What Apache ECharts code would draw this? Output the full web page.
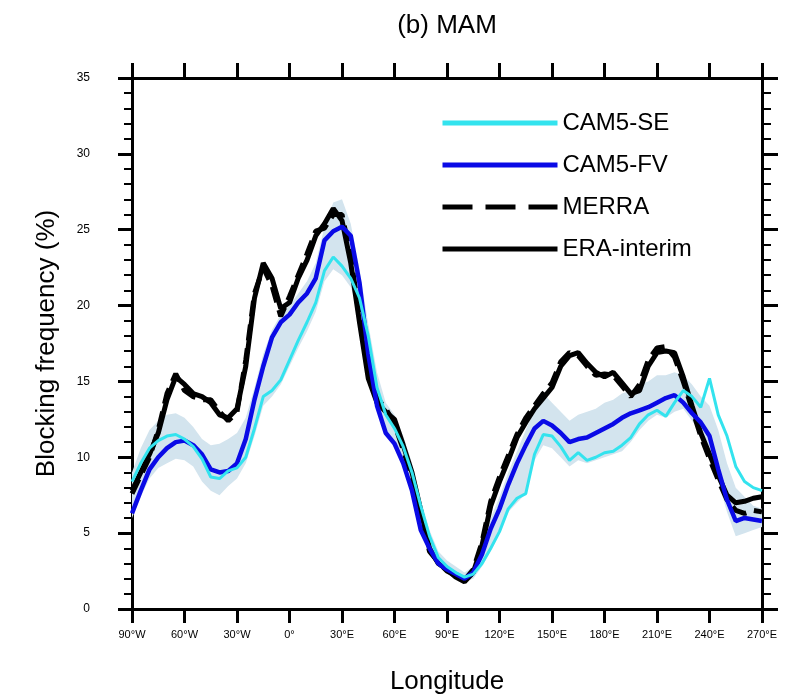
<!DOCTYPE html>
<html>
<head>
<meta charset="utf-8">
<script src="https://cdn.jsdelivr.net/npm/echarts@6/dist/echarts.min.js"></script>
<style>
  html, body { margin: 0; padding: 0; background: #fff; }
  #chart { width: 802px; height: 700px; }
</style>
</head>
<body>
<div id="chart"></div>
<script>
// longitude grid, every 5 degrees from 90W to 270E
var lons = [];
for (var l = -90; l <= 270; l += 5) { lons.push(l); }

var eraInterim = [7.8, 9.0, 10.2, 11.6, 13.8, 15.3, 14.8, 14.2, 14.0, 13.6, 12.8, 12.6, 13.2, 16.0, 20.5, 22.8, 21.8, 19.8,
  20.2, 21.8, 23.0, 24.6, 25.4, 26.4, 25.6, 22.8, 18.9, 15.2, 13.6, 13.0, 12.5, 10.8, 9.0, 6.5, 4.0, 3.0, 2.6, 2.1, 1.8,
  2.4, 4.2, 6.8, 8.4, 9.8, 11.3, 12.3, 13.2, 13.9, 14.6, 16.0, 16.7, 16.9, 16.2, 15.6, 15.3, 15.6, 14.9, 14.2, 14.4,
  16.0, 16.9, 17.0, 16.9, 15.3, 13.4, 11.6, 10.2, 8.8, 7.5, 7.0, 7.1, 7.3, 7.4];

var merra = [7.6, 8.8, 10.0, 11.8, 14.2, 15.5, 14.4, 14.0, 13.8, 13.8, 13.0, 12.4, 13.0, 16.4, 20.8, 22.5, 21.3, 19.3,
  20.6, 22.0, 23.4, 24.9, 25.1, 26.0, 26.0, 23.2, 19.2, 15.6, 13.9, 13.2, 12.2, 10.5, 8.6, 6.2, 3.8, 3.1, 2.5, 2.2, 1.9,
  2.6, 4.4, 7.1, 8.7, 10.1, 11.5, 12.6, 13.4, 14.2, 14.9, 16.3, 16.9, 16.7, 16.0, 15.4, 15.5, 15.4, 14.7, 14.0, 14.8,
  16.4, 17.2, 17.3, 16.6, 15.0, 13.2, 11.4, 9.9, 8.5, 7.2, 6.5, 6.3, 6.5, 6.4];

var cam5FV = [6.3, 7.8, 9.2, 10.0, 10.6, 11.0, 11.1, 10.8, 10.2, 9.2, 9.0, 9.1, 9.6, 11.2, 13.8, 16.0, 17.9, 18.9,
  19.4, 20.2, 20.8, 21.8, 24.3, 24.9, 25.2, 24.6, 21.5, 16.8, 13.4, 11.6, 10.9, 9.6, 7.8, 5.2, 4.0, 3.0, 2.6, 2.3, 2.0,
  2.4, 3.6, 5.3, 6.6, 8.2, 9.6, 10.8, 11.9, 12.4, 12.1, 11.6, 11.0, 11.2, 11.3, 11.6, 11.9, 12.2, 12.6, 12.9, 13.1,
  13.3, 13.6, 13.9, 14.1, 13.6, 12.9, 12.3, 11.4, 9.2, 7.2, 5.8, 6.0, 5.9, 5.8];

var cam5SE = [8.4, 9.6, 10.6, 11.1, 11.4, 11.5, 11.2, 10.7, 9.9, 8.7, 8.6, 9.1, 9.3, 10.0, 11.9, 14.0, 14.4, 15.1,
  16.4, 17.7, 18.9, 20.2, 22.3, 23.2, 22.6, 21.8, 20.5, 18.0, 14.6, 12.8, 11.9, 10.7, 9.0, 6.8, 4.8, 3.4, 2.8, 2.4, 2.1,
  2.3, 3.0, 4.0, 5.1, 6.6, 7.3, 7.6, 10.2, 11.5, 11.4, 10.7, 9.8, 10.3, 9.8, 10.0, 10.3, 10.4, 10.8, 11.3, 12.2,
  12.8, 13.1, 12.7, 13.6, 14.4, 14.0, 13.3, 15.2, 12.8, 11.4, 9.4, 8.4, 8.0, 7.8];

// model spread (shaded band)
var spreadLow = [6.0, 7.4, 8.6, 9.3, 9.6, 9.9, 9.8, 9.4, 8.4, 7.8, 7.5, 8.1, 8.6, 9.6, 11.4, 13.4, 14.0, 14.8,
  16.0, 17.2, 18.3, 19.6, 21.6, 22.4, 22.0, 21.2, 19.6, 16.2, 13.2, 11.6, 10.6, 9.4, 7.4, 5.0, 3.8, 2.8, 2.4, 2.1, 1.8,
  2.0, 2.8, 3.8, 5.0, 6.4, 7.0, 7.6, 9.8, 10.8, 10.6, 10.0, 9.4, 9.8, 9.6, 9.8, 10.0, 10.2, 10.4, 11.0, 11.8,
  12.4, 12.8, 12.6, 13.0, 13.2, 12.4, 11.6, 10.4, 8.4, 6.4, 4.8, 5.0, 5.2, 5.4];
var spreadHigh = [9.0, 10.6, 11.8, 12.4, 12.8, 12.9, 12.6, 12.0, 11.2, 10.8, 10.9, 11.2, 11.6, 12.6, 14.6, 16.8, 18.4, 19.4,
  20.0, 20.8, 21.6, 22.8, 25.2, 26.8, 27.0, 25.4, 22.4, 18.8, 15.6, 13.6, 12.8, 11.4, 9.6, 7.2, 5.2, 3.8, 3.2, 2.8, 2.4,
  2.8, 4.2, 6.0, 7.4, 9.0, 10.4, 11.8, 13.2, 14.2, 13.6, 13.0, 12.4, 12.8, 13.0, 13.2, 13.6, 13.8, 14.2, 14.4, 14.8,
  15.0, 15.4, 15.4, 15.6, 15.4, 14.8, 14.0, 13.4, 11.8, 9.6, 8.0, 7.4, 6.8, 6.6];

function pairs(vals) {
    return lons.map(function(x, i) { return [x, vals[i]]; });
}
function lonLabel(v) {
    if (v < 0) return (-v) + '°W';
    if (v === 0) return '0°';
    return v + '°E';
}

var myChart = echarts.init(document.getElementById('chart'));
var font = 'Liberation Sans, Arial, sans-serif';
var axisLine = { show: true, onZero: false, lineStyle: { color: '#000', width: 3 } };

// shaded spread drawn as one polygon through the axes' scales
var bandData = lons.map(function(x, i) { return [x, spreadLow[i], spreadHigh[i]]; });
function renderBand(params, api) {
    if (params.dataIndex !== 0) return;
    var upper = [], lower = [];
    for (var i = 0; i < bandData.length; i++) {
        upper.push(api.coord([bandData[i][0], bandData[i][2]]));
        lower.unshift(api.coord([bandData[i][0], bandData[i][1]]));
    }
    return {
        type: 'polygon',
        shape: { points: upper.concat(lower) },
        style: { fill: '#d3e4ee', stroke: 'none' },
        silent: true
    };
}

var option = {
    animation: false,
    backgroundColor: '#fff',
    title: {
        text: '(b) MAM',
        left: 442,
        textAlign: 'center',
        top: 8,
        textStyle: { fontFamily: font, fontSize: 26, fontWeight: 'normal', color: '#000' }
    },
    legend: {
        data: [
            { name: 'CAM5-SE' },
            { name: 'CAM5-FV' },
            { name: 'MERRA', lineStyle: { type: [30, 13] } },
            { name: 'ERA-interim' }
        ],
        orient: 'vertical',
        left: 435,
        top: 106,
        itemWidth: 115,
        itemHeight: 24,
        itemGap: 18,
        itemStyle: { opacity: 0 },
        lineStyle: { width: 5 },
        textStyle: { fontFamily: font, fontSize: 24, color: '#000', lineHeight: 24 }
    },
    grid: { left: 132, right: 40, top: 78, bottom: 91 },
    xAxis: [{
        type: 'value',
        min: -90, max: 270, interval: 30,
        name: 'Longitude',
        nameLocation: 'middle',
        nameGap: 60,
        nameTextStyle: { fontFamily: font, fontSize: 26, color: '#000' },
        axisLine: axisLine,
        axisTick: { show: true, inside: false, length: 14, lineStyle: { color: '#000', width: 3 } },
        axisLabel: { fontFamily: font, fontSize: 11, color: '#000', margin: 20, formatter: lonLabel },
        splitLine: { show: false }
    }, {
        type: 'value',
        position: 'top',
        min: -90, max: 270, interval: 30,
        axisLine: axisLine,
        axisTick: { show: true, inside: false, length: 15, lineStyle: { color: '#000', width: 3 } },
        axisLabel: { show: false },
        splitLine: { show: false }
    }],
    yAxis: [{
        type: 'value',
        min: 0, max: 35, interval: 5,
        name: 'Blocking frequency (%)',
        nameLocation: 'middle',
        nameGap: 72,
        nameTextStyle: { fontFamily: font, fontSize: 26, color: '#000' },
        axisLine: axisLine,
        axisTick: { show: true, inside: false, length: 14, lineStyle: { color: '#000', width: 3 } },
        minorTick: { show: true, splitNumber: 5, length: 8, lineStyle: { color: '#000', width: 2 } },
        axisLabel: { fontFamily: font, fontSize: 12, color: '#000', margin: 42 },
        splitLine: { show: false }
    }, {
        type: 'value',
        position: 'right',
        min: 0, max: 35, interval: 5,
        axisLine: axisLine,
        axisTick: { show: true, inside: false, length: 16, lineStyle: { color: '#000', width: 3 } },
        minorTick: { show: true, splitNumber: 5, length: 9, lineStyle: { color: '#000', width: 2 } },
        axisLabel: { show: false },
        splitLine: { show: false }
    }],
    series: [
        {
            name: 'spread', type: 'custom', silent: true,
            data: bandData,
            encode: { x: 0, y: [1, 2] },
            renderItem: renderBand,
            z: 1
        },
        {
            name: 'ERA-interim', type: 'line', symbol: 'none', data: pairs(eraInterim),
            itemStyle: { color: '#000' },
            lineStyle: { color: '#000', width: 5 }
        },
        {
            name: 'MERRA', type: 'line', symbol: 'none', data: pairs(merra),
            itemStyle: { color: '#000' },
            lineStyle: { color: '#000', width: 5, type: [16, 8] }
        },
        {
            name: 'CAM5-FV', type: 'line', symbol: 'none', data: pairs(cam5FV),
            itemStyle: { color: '#0a0ae6' },
            lineStyle: { color: '#0a0ae6', width: 4.5 }
        },
        {
            name: 'CAM5-SE', type: 'line', symbol: 'none', data: pairs(cam5SE),
            itemStyle: { color: '#33e3ee' },
            lineStyle: { color: '#33e3ee', width: 3 }
        }
    ]
};
option && myChart.setOption(option);
</script>
</body>
</html>
